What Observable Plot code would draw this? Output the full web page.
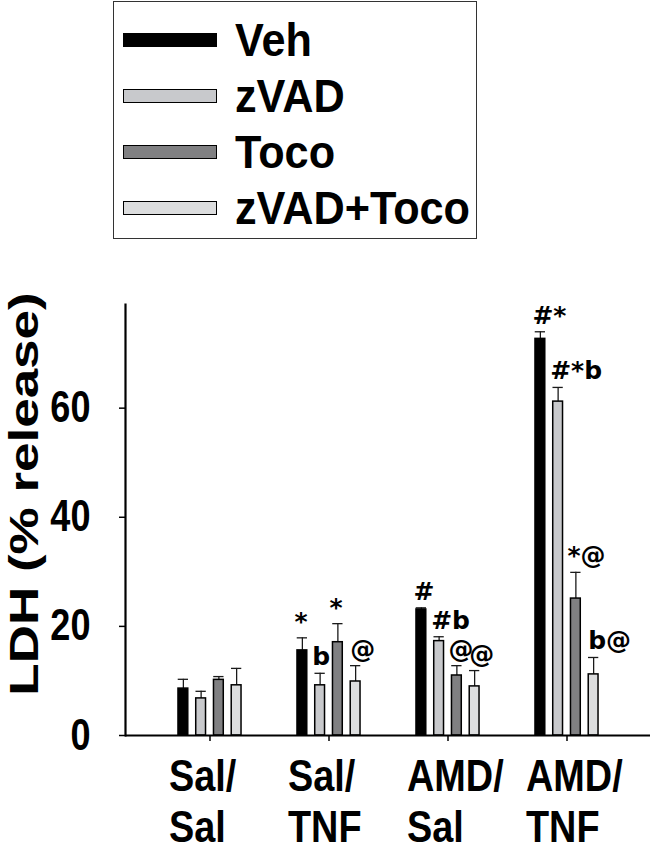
<!DOCTYPE html>
<html>
<head>
<meta charset="utf-8">
<script src="https://cdn.jsdelivr.net/npm/d3@7"></script>
<script src="https://cdn.jsdelivr.net/npm/@observablehq/plot@0.6"></script>
<style>
  html, body { margin: 0; padding: 0; background: #fff; }
  body { width: 650px; height: 853px; overflow: hidden; }
  #legend { position: relative; height: 245px; }
  #legend .box { position: absolute; left: 113px; top: 1px; width: 364px; height: 238px;
    border: 1.5px solid #333; box-sizing: border-box; padding-top: 9.5px; }
  #legend .row { display: flex; align-items: center; height: 56px; white-space: nowrap; }
  #legend .sw { flex: 0 0 auto; margin-left: 8.5px; width: 94px; height: 14px; box-sizing: border-box; border: 1.5px solid #000; }
  #legend .lab { flex: 0 0 auto; margin-left: 18px; font-family: "Liberation Sans", Arial, sans-serif;
    font-weight: bold; font-size: 47px; line-height: normal; color: #000;
    transform: scaleX(0.92); transform-origin: left center; }
  #chart svg { display: block; }
</style>
</head>
<body>
<div id="legend"><div class="box"></div></div>
<div id="chart"></div>
<script>
// ---- data ----
const groups = ["Sal/Sal", "Sal/TNF", "AMD/Sal", "AMD/TNF"];
const groupLabels = ["Sal/\nSal", "Sal/\nTNF", "AMD/\nSal", "AMD/\nTNF"];
const series = ["Veh", "zVAD", "Toco", "zVAD+Toco"];
const colors = ["#000000", "#c8c9cc", "#808082", "#dcddde"];

const vehMean   = [8.6, 15.6, 23.1, 72.7];
const vehErr    = [1.7, 2.3, 0.3, 1.3];
const zvadMean  = [6.8, 9.2, 17.3, 61.2];
const zvadErr   = [1.3, 2.2, 0.8, 2.6];
const tocoMean  = [10.2, 17.1, 11.0, 25.1];
const tocoErr   = [0.6, 3.4, 1.8, 4.8];
const comboMean = [9.2, 9.9, 9.0, 11.2];
const comboErr  = [3.1, 2.9, 2.9, 3.1];

const vehSig   = ["", "*", "#", "#*"];
const zvadSig  = ["", "b", "#b", "#*b"];
const tocoSig  = ["", "*", "@", "*@"];
const comboSig = ["", "@", "@", "b@"];

const yTicks = [0, 20, 40, 60];
const yLabel = "LDH (% release)";

// ---- table ----
const means = [vehMean, zvadMean, tocoMean, comboMean];
const errs = [vehErr, zvadErr, tocoErr, comboErr];
const sigs = [vehSig, zvadSig, tocoSig, comboSig];
const rows = series.flatMap((s, si) => groups.map((g, gi) => ({
  series: s, si, group: g, value: means[si][gi], err: errs[si][gi], sig: sigs[si][gi]
})));

// ---- legend ----
const box = document.querySelector("#legend .box");
series.forEach((s, i) => {
  const row = document.createElement("div");
  row.className = "row";
  const sw = document.createElement("div");
  sw.className = "sw";
  sw.style.background = colors[i];
  const lab = document.createElement("div");
  lab.className = "lab";
  lab.textContent = s;
  row.appendChild(sw); row.appendChild(lab);
  box.appendChild(row);
});

// ---- chart ----
const step = 17.75;          // px between bars within a group
const barW = 10.5;           // bar fill width
const capW = 11;             // error cap width
const bandW = 525 / 4.386;   // band width of the group scale
const inset = (bandW - barW) / 2;
const capInset = (bandW - capW) / 2;
const off = i => (i - 1.5) * step;
const sigShift = [-8, -8, -8.5, -5.5];
const sans = "'Liberation Sans', Arial, sans-serif";

const seriesMarks = series.flatMap((s, si) => {
  const d = rows.filter(r => r.series === s);
  return [
    Plot.ruleX(d, {x: "group", y1: "value", y2: r => r.value + r.err, dx: off(si), stroke: "#1a1a1a", strokeWidth: 1.3}),
    Plot.tickY(d, {x: "group", y: r => r.value + r.err, dx: off(si), insetLeft: capInset, insetRight: capInset, stroke: "#1a1a1a", strokeWidth: 1.3}),
    Plot.barY(d, {x: "group", y: "value", dx: off(si), insetLeft: inset, insetRight: inset,
      fill: colors[si], stroke: "#000", strokeWidth: 1.5}),
    Plot.text(d.filter(r => r.sig), {x: "group", y: r => r.value + r.err, text: "sig", dx: off(si) + sigShift[si], dy: -8,
      textAnchor: "start", lineAnchor: "bottom", fontFamily: "'DejaVu Sans', sans-serif", fontWeight: "bold", fontSize: 25, fill: "#000"})
  ];
});

const svg = Plot.plot({
  width: 650,
  height: 608,
  marginTop: 59,
  marginBottom: 118,
  marginLeft: 125,
  marginRight: 0,
  style: {fontFamily: sans, fontWeight: "bold", fontSize: "44px", color: "#000", background: "#fff", overflow: "visible"},
  x: {domain: groups, paddingInner: 0, paddingOuter: 0.193, axis: null},
  y: {domain: [0, 79], axis: null},
  marks: [
    Plot.axisY({ticks: yTicks, tickSize: 6, tickPadding: 29, tickFormat: d => String(d), label: null,
      fontSize: 44, strokeWidth: 1.5}),
    Plot.axisX({tickSize: 6, tickFormat: () => "", label: null, strokeWidth: 1.5}),
    ...seriesMarks,
    Plot.ruleY([0], {stroke: "#000", strokeWidth: 2.2}),
    Plot.frame({anchor: "left", stroke: "#000", strokeWidth: 2.2}),
    Plot.text(groups, {x: d => d, text: (d, i) => groupLabels[i], frameAnchor: "bottom", textAnchor: "start",
      lineAnchor: "top", dx: -41, dy: 20, fontSize: 44, lineHeight: 1.15, fill: "#000", ariaLabel: "x-label"}),
    Plot.text([yLabel], {text: d => d, frameAnchor: "left", textAnchor: "middle", rotate: -90, dx: -100.5, dy: -26,
      lineAnchor: "middle", fontFamily: sans, fontWeight: "bold", fontSize: 53,
      fill: "#000", ariaLabel: "y-label"})
  ]
});

document.getElementById("chart").appendChild(svg);

// narrow the Arial-like lettering the way the original figure is compressed,
// keeping the anchored edge of each text in place
function squeezeX(filterFn, s, edge) {
  d3.select(svg).selectAll("text").filter(filterFn).each(function () {
    const r = this.getBoundingClientRect();
    const m = this.parentNode.getScreenCTM();
    const L = (edge === "right" ? r.right : r.left) - m.e;
    const t = this.getAttribute("transform") || "";
    this.setAttribute("transform", `translate(${L},0) scale(${s},1) translate(${-L},0) ${t}`);
  });
}
const xLabelSet = new Set(groupLabels.map(l => l.replace("\n", "")));
const yTickSet = new Set(yTicks.map(String));
squeezeX(function () { return xLabelSet.has(this.textContent.replace(/\s/g, "")); }, 0.86, "left");
squeezeX(function () { return yTickSet.has(this.textContent.trim()); }, 0.82, "right");
d3.select(svg).selectAll("text").filter(function () { return this.textContent === yLabel; })
  .attr("transform", function () { return (this.getAttribute("transform") || "") + " scale(1,0.78)"; });
</script>
</body>
</html>
